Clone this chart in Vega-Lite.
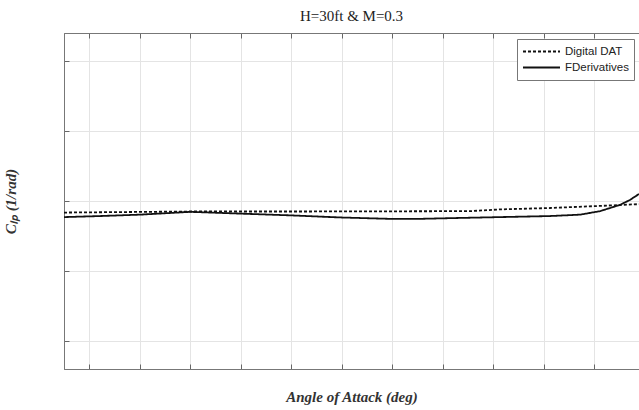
{
  "$schema": "https://vega.github.io/schema/vega-lite/v6.json",
  "width": 575,
  "height": 336,
  "autosize": {"type": "none"},
  "padding": {"left": 64, "top": 33, "right": 0, "bottom": 41},
  "background": "white",
  "title": {"text": "H=30ft & M=0.3", "font": "Liberation Serif", "fontSize": 15, "fontWeight": "normal", "color": "#222", "offset": 9},
  "config": {
    "view": {"stroke": "#777", "strokeWidth": 1},
    "axis": {
      "grid": true,
      "gridColor": "#e4e4e4",
      "gridWidth": 1,
      "domainColor": "#777",
      "tickColor": "#666",
      "tickSize": -5,
      "labels": false,
      "titleFont": "Liberation Serif",
      "titleFontStyle": "italic",
      "titleFontWeight": "bold",
      "titleFontSize": 15,
      "titleColor": "#333"
    }
  },
  "data": {
    "values": [
      {"aoa": -3.0, "clp": -0.033, "series": "Digital DAT"},
      {"aoa": 2.0, "clp": -0.030, "series": "Digital DAT"},
      {"aoa": 6.35, "clp": -0.030, "series": "Digital DAT"},
      {"aoa": 13.08, "clp": -0.029, "series": "Digital DAT"},
      {"aoa": 14.27, "clp": -0.024, "series": "Digital DAT"},
      {"aoa": 16.25, "clp": -0.020, "series": "Digital DAT"},
      {"aoa": 18.23, "clp": -0.014, "series": "Digital DAT"},
      {"aoa": 19.77, "clp": -0.009, "series": "Digital DAT"},
      {"aoa": -3.0, "clp": -0.046, "series": "FDerivatives"},
      {"aoa": -1.57, "clp": -0.043, "series": "FDerivatives"},
      {"aoa": 0.01, "clp": -0.039, "series": "FDerivatives"},
      {"aoa": 2.0, "clp": -0.031, "series": "FDerivatives"},
      {"aoa": 3.97, "clp": -0.036, "series": "FDerivatives"},
      {"aoa": 5.95, "clp": -0.041, "series": "FDerivatives"},
      {"aoa": 7.93, "clp": -0.047, "series": "FDerivatives"},
      {"aoa": 9.91, "clp": -0.051, "series": "FDerivatives"},
      {"aoa": 11.1, "clp": -0.051, "series": "FDerivatives"},
      {"aoa": 12.29, "clp": -0.049, "series": "FDerivatives"},
      {"aoa": 14.27, "clp": -0.046, "series": "FDerivatives"},
      {"aoa": 16.25, "clp": -0.043, "series": "FDerivatives"},
      {"aoa": 17.44, "clp": -0.039, "series": "FDerivatives"},
      {"aoa": 18.23, "clp": -0.029, "series": "FDerivatives"},
      {"aoa": 19.02, "clp": -0.011, "series": "FDerivatives"},
      {"aoa": 19.41, "clp": 0.003, "series": "FDerivatives"},
      {"aoa": 19.77, "clp": 0.020, "series": "FDerivatives"}
    ]
  },
  "layer": [
    {
      "mark": {"type": "line", "clip": true, "color": "#111", "strokeWidth": 1.8},
      "encoding": {
        "x": {"field": "aoa", "type": "quantitative", "scale": {"domain": [-3, 19.77], "nice": false, "zero": false},
              "axis": {"orient": "bottom", "title": "Angle of Attack (deg)", "values": [-2, 0, 2, 4, 6, 8, 10, 12, 14, 16, 18], "titlePadding": 20}},
        "y": {"field": "clp", "type": "quantitative", "scale": {"domain": [-0.48, 0.48], "nice": false, "zero": false},
              "axis": {"title": "Cₗₚ (1/rad)", "values": [-0.4, -0.2, 0, 0.2, 0.4], "titlePadding": 45}},
        "strokeDash": {"field": "series", "type": "nominal", "scale": {"domain": ["Digital DAT", "FDerivatives"], "range": [[3, 2], [1, 0]]},
          "legend": {"title": null, "orient": "none", "legendX": 453, "legendY": 6, "symbolType": "stroke", "symbolSize": 1369, "symbolStrokeWidth": 1.8, "symbolStrokeColor": "#111",
            "clipHeight": 15, "labelFont": "Liberation Sans", "labelFontSize": 11.5, "labelColor": "#222", "fillColor": "white", "strokeColor": "#777", "padding": 5, "rowPadding": 1, "labelOffset": 4}}
      }
    },
    {
      "mark": {"type": "point", "opacity": 0},
      "encoding": {
        "x": {"field": "aoa", "type": "quantitative", "axis": {"orient": "top", "title": null, "grid": false, "values": [-2, 0, 2, 4, 6, 8, 10, 12, 14, 16, 18]}},
        "y": {"field": "clp", "type": "quantitative"}
      }
    }
  ],
  "resolve": {"axis": {"x": "independent"}}
}
